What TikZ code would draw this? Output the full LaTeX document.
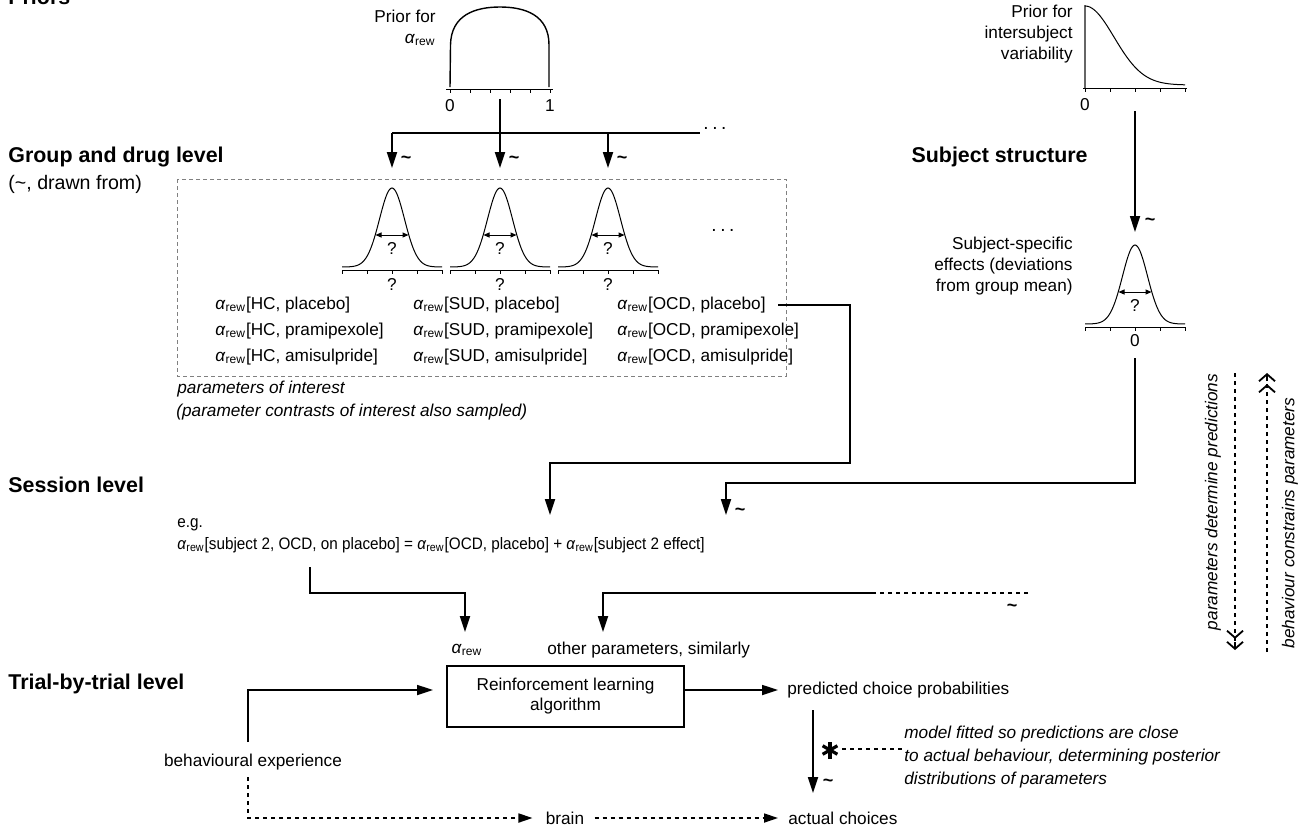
\documentclass[tikz,border=0pt]{standalone}
\usepackage{fontspec}
\setmainfont{Liberation Sans}
\newfontfamily\eqfont[FakeStretch=0.92]{Liberation Sans}
\usetikzlibrary{arrows.meta,calc}
\newcommand\arew{\textit{α}\textsubscript{rew}}
\tikzset{
 body/.style={font=\fontsize{8.6}{10.5}\selectfont, inner sep=0pt},
 eqf/.style={font=\eqfont\fontsize{8.3}{10}\selectfont, inner sep=0pt},
 head/.style={font=\fontsize{10.7}{13}\selectfont\bfseries, inner sep=0pt},
 paren/.style={font=\fontsize{9.8}{12}\selectfont, inner sep=0pt},
 note/.style={font=\fontsize{8.6}{11.5}\selectfont\itshape, inner sep=0pt},
 tild/.style={font=\fontsize{9}{10}\selectfont\bfseries, inner sep=0pt},
 dotsf/.style={font=\fontsize{9.5}{10}\selectfont, inner sep=0pt},
 conn/.style={line width=0.9pt},
 arr/.style={conn, -{Triangle[length=8pt,width=5pt]}},
 dsh/.style={line width=0.9pt, dash pattern=on 2pt off 2pt},
 dsharr/.style={dsh, -{Triangle[length=7pt,width=4.5pt]}},
 chevtip/.style={line width=0.9pt, -{Straight Barb[length=3.5pt,width=8pt,sep=1pt] Straight Barb[length=3.5pt,width=8pt]}},
 gl/.style={line width=0.5pt},
 curv/.style={line width=0.7pt},
 gbox/.style={draw=black!50, line width=0.5pt, dash pattern=on 2pt off 1.5pt},
 rlbox/.style={draw, line width=0.9pt, minimum width=118.5pt, minimum height=30.5pt, align=center,
   font=\fontsize{8.6}{10}\selectfont, inner sep=0pt},
 gauss/.pic={
   \draw[gl] (-50,0) -- (50,0);
   \foreach \t in {-50,-25,0,25,50} \draw[gl] (\t,0) -- (\t,4);
   \draw[gl, domain=-50:50, samples=81, smooth] plot (\x, {-3-79*exp(-(\x*\x)/312.5)});
   \draw[gl, {Triangle[length=3pt,width=2.5pt]}-{Triangle[length=3pt,width=2.5pt]}] (-16.5,-35) -- (16.5,-35);
   \node[body] (-w) at (0,-22) {?};
   \node[body] (-b) at (0,14) {#1};
 }
}
\begin{document}
\begin{tikzpicture}[x=0.5pt,y=-0.5pt]
\useasboundingbox (0,0) rectangle (1309,826);
% headings
\node[head, anchor=base west] (priors) at (8,4) {Priors};
\node[head, anchor=west] (grp) at (8,157) {Group and drug level};
\node[paren, anchor=west] (drawn) at (8,184) {(\textasciitilde, drawn from)};
\node[head, anchor=east] (subj) at (1088,157) {Subject structure};
\node[head, anchor=west] (sess) at (8,485) {Session level};
\node[head, anchor=west] (trial) at (8,684) {Trial-by-trial level};

% prior for alpha
\node[body, align=right, anchor=east] (pf) at (436,28) {Prior for\\\arew};
\draw[gl] (446,89) -- (553,89);
\foreach \t in {450,470,...,550} \draw[gl] (\t,89) -- (\t,93);
\draw[curv] (450,87) -- (450.5,45) .. controls (451,15) and (475,7) .. (500,7) .. controls (525,7) and (549,15) .. (549,45) -- (549,87);
\node[body] (p0) at (450,106) {0};
\node[body] (p1) at (550,106) {1};

% distribution to groups
\coordinate (ps) at (500,99);
\coordinate (h1) at (392,133);
\coordinate (h3) at (608,133);
\coordinate (hend) at (700,133);
\coordinate (g1t) at (392,168);
\coordinate (g2t) at (500,168);
\coordinate (g3t) at (608,168);
\draw[conn] (h1) -- (hend);
\node[dotsf] (hdots) at (715,128) {.\hspace{1.8pt}.\hspace{1.8pt}.};
\draw[arr] (h1) -- (g1t);
\draw[arr] (ps) -- (g2t);
\draw[arr] (h3) -- (g3t);
\node[tild] (t1) at (406,160) {\textasciitilde};
\node[tild] (t2) at (514,160) {\textasciitilde};
\node[tild] (t3) at (622,160) {\textasciitilde};

% group box
\draw[gbox] (177,179) rectangle (786,376);
\pic (g1) at (392,270) {gauss={?}};
\pic (g2) at (500,270) {gauss={?}};
\pic (g3) at (608,270) {gauss={?}};
\node[dotsf] (gdots) at (723,230) {.\hspace{1.8pt}.\hspace{1.8pt}.};

\node[body, anchor=west] (c11) at (215,305) {\arew[HC, placebo]};
\node[body, anchor=west] (c12) at (215,331) {\arew[HC, pramipexole]};
\node[body, anchor=west] (c13) at (215,357) {\arew[HC, amisulpride]};
\node[body, anchor=west] (c21) at (413,305) {\arew[SUD, placebo]};
\node[body, anchor=west] (c22) at (413,331) {\arew[SUD, pramipexole]};
\node[body, anchor=west] (c23) at (413,357) {\arew[SUD, amisulpride]};
\node[body, anchor=west] (c31) at (617,305) {\arew[OCD, placebo]};
\node[body, anchor=west] (c32) at (617,331) {\arew[OCD, pramipexole]};
\node[body, anchor=west] (c33) at (617,357) {\arew[OCD, amisulpride]};

\node[note, anchor=west] (poi) at (177,389) {parameters of interest};
\node[note, anchor=west] (pcs) at (176,412) {(parameter contrasts of interest also sampled)};

% subject structure
\node[body, align=right, anchor=east] (rpl) at (1073,34) {Prior for\\intersubject\\variability};
\draw[curv, black!60] (1085,5) -- (1085,88);
\draw[gl] (1083,88) -- (1187,88);
\foreach \t in {1085,1110,...,1185} \draw[gl] (\t,88) -- (\t,92);
\draw[gl, domain=1085:1185, samples=60, smooth] plot (\x, {85-79*exp(-((\x-1085)*(\x-1085))/1682)});
\node[body] (r0) at (1085,105) {0};
\coordinate (rs) at (1135,111);
\coordinate (rt) at (1135,232);
\draw[arr] (rs) -- (rt);
\node[tild] (t4) at (1150,222) {\textasciitilde};
\node[body, align=right, anchor=east] (sse) at (1073,266) {Subject-specific\\effects (deviations\\from group mean)};
\pic (gs) at (1135,327) {gauss={0}};

% to session level
\coordinate (k1) at (850,463);
\coordinate (k2) at (550,463);
\coordinate (k3) at (550,515);
\draw[arr] ([xshift=6pt]c31.east) -| (k1) -- (k2) -- (k3);
\coordinate (ss) at (1135,358);
\coordinate (sk) at (1135,483);
\coordinate (sk2) at (726,483);
\coordinate (sk3) at (726,515);
\draw[arr] (ss) -- (sk) -- (sk2) -- (sk3);
\node[tild] (t5) at (740,512) {\textasciitilde};

% session level
\node[eqf, anchor=west] (eg) at (177,525) {e.g.};
\node[eqf, anchor=west] (eq) at (177,545) {\arew[subject 2, OCD, on placebo] = \arew[OCD, placebo] + \arew[subject 2 effect]};
\coordinate (e1) at (310,567);
\coordinate (e2) at (310,593);
\coordinate (e3) at (465,593);
\coordinate (e4) at (465,632);
\draw[arr] (e1) -- (e2) -- (e3) -- (e4);
\node[body] (ar) at (467,650) {\arew};
\node[body, anchor=west] (op) at (547,650) {other parameters, similarly};
\coordinate (o1) at (1028,593);
\coordinate (o2) at (872,593);
\coordinate (o3) at (603,593);
\coordinate (o4) at (603,632);
\draw[dsh] (o1) -- (o2);
\draw[arr] (o2) -- (o3) -- (o4);
\node[tild] (t6) at (1012,608) {\textasciitilde};

% trial level
\node[rlbox] (rl) at (565.5,696.5) {Reinforcement learning\\algorithm};
\node[body] (be) at (253,762) {behavioural experience};
\coordinate (b1) at (248,742);
\coordinate (b2) at (248,690);
\coordinate (b3) at (433,690);
\draw[arr] (b1) -- (b2) -- (b3);
\node[body, anchor=west] (pcp) at (787,690) {predicted choice probabilities};
\draw[arr] (rl.east |- pcp.west) -- ([xshift=-4.5pt]pcp.west);
\node[body, anchor=west] (ac) at (788,818) {actual choices};
\coordinate (d1) at (813,710);
\coordinate (d2) at (813,793);
\draw[arr] (d1) -- (d2);
\node[tild] (t7) at (828,783) {\textasciitilde};
\coordinate (ast) at (830,750);
\foreach \a in {90,30,-30} \draw[line width=1.6pt] ($(ast)+(\a:8.5)$) -- ($(ast)+(\a+180:8.5)$);
\node[note, anchor=west, align=left] (mf) at (904,757) {model fitted so predictions are close\\to actual behaviour, determining posterior\\distributions of parameters};
\coordinate (as2) at (842,749);
\draw[dsh] (as2) -- (mf.west |- as2);
\node[body] (br) at (565,818) {brain};
\coordinate (bb1) at (248,777);
\coordinate (bb2) at (248,818);
\draw[dsharr] (bb1) -- (bb2) -- ([xshift=-6.5pt]br.west);
\draw[dsharr] ([xshift=5pt]br.east) -- ([xshift=-5pt]ac.west);

% right side
\coordinate (v1) at (1235,373);
\coordinate (v2) at (1235,650);
\coordinate (w1) at (1267,652);
\coordinate (w2) at (1267,373);
\draw[dsh] (v1) -- ($(v2)+(0,-6)$);
\draw[chevtip] ($(v2)+(0,-8)$) -- (v2);
\draw[dsh] (w1) -- ($(w2)+(0,6)$);
\draw[chevtip] ($(w2)+(0,8)$) -- (w2);
\node[note, rotate=90] (pdp) at (1213,502) {parameters determine predictions};
\node[note, rotate=90] (bcp) at (1290,523) {behaviour constrains parameters};
\end{tikzpicture}
\end{document}
